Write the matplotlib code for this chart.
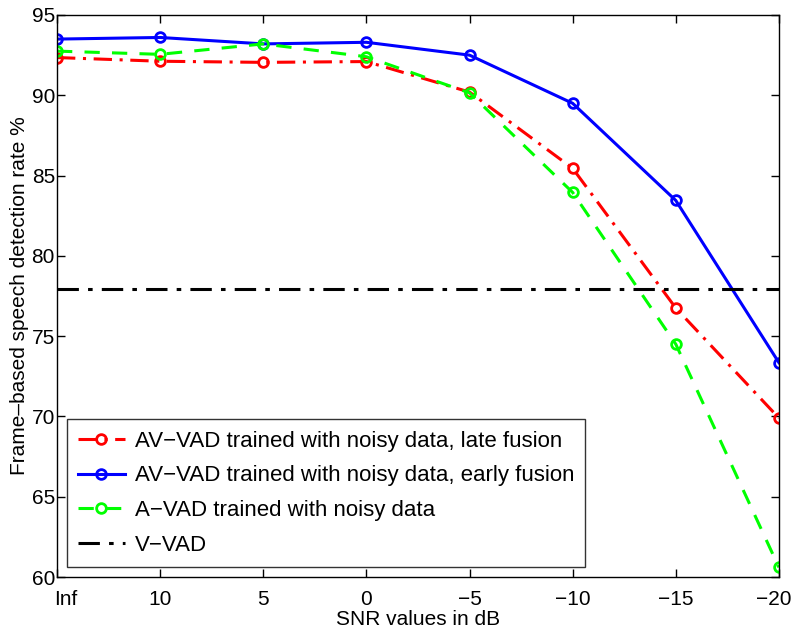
import matplotlib
matplotlib.use("Agg")
import matplotlib.pyplot as plt
from matplotlib.transforms import ScaledTranslation

plt.rcParams['font.family'] = ['Liberation Sans', 'DejaVu Sans']

snr_labels = ['Inf', '10', '5', '0', '\u22125', '\u221210', '\u221215', '\u221220']
late_fusion = [92.35, 92.12, 92.05, 92.1, 90.2, 85.45, 76.75, 69.9]
early_fusion = [93.5, 93.6, 93.2, 93.3, 92.5, 89.5, 83.45, 73.35]
audio_only = [92.75, 92.55, 93.2, 92.4, 90.15, 83.95, 74.5, 60.6]
video_only = 77.95

x = list(range(len(snr_labels)))

fig = plt.figure(figsize=(7.94, 6.30), dpi=100)
ax = fig.add_axes([0.0718, 0.0841, 0.9092, 0.8921])

ax.plot(x, late_fusion, color='#ff0000', linestyle=(0, (6, 2.5, 1, 2.5)), lw=2.2,
        marker='o', ms=7, mfc='none', mew=2, label='AV\u2212VAD trained with noisy data, late fusion')
ax.plot(x, early_fusion, color='#0000ff', linestyle='-', lw=2.2,
        marker='o', ms=7, mfc='none', mew=2, label='AV\u2212VAD trained with noisy data, early fusion')
ax.plot(x, audio_only, color='#00ff00', linestyle=(0, (5, 4)), lw=2.2,
        marker='o', ms=7, mfc='none', mew=2, label='A\u2212VAD trained with noisy data')
ax.axhline(video_only, color='black', linestyle=(0, (7, 3, 1.5, 3)), lw=2.2, label='V\u2212VAD')

ax.set_xlim(0, len(snr_labels) - 1)
ax.set_ylim(60, 95)
ax.set_xticks(x)
ax.set_xticklabels(snr_labels)
ax.set_yticks([60, 65, 70, 75, 80, 85, 90, 95])
ax.tick_params(direction='in', top=True, right=True, labelsize=15, length=6, width=1)
ax.tick_params(axis='x', pad=9)
ax.tick_params(axis='y', pad=1.5)
for s in ax.spines.values():
    s.set_linewidth(1)

# keep the end labels inside the figure edges
xlabels = ax.get_xticklabels()
xlabels[0].set_transform(xlabels[0].get_transform() + ScaledTranslation(0.09, 0, fig.dpi_scale_trans))
xlabels[-1].set_transform(xlabels[-1].get_transform() + ScaledTranslation(-0.05, 0, fig.dpi_scale_trans))

ax.set_xlabel('SNR values in dB', fontsize=15, labelpad=1)
ax.set_ylabel('Frame\u2013based speech detection rate %', fontsize=15, labelpad=2)

leg = ax.legend(loc='lower left', fontsize=16, frameon=True, fancybox=False,
                edgecolor='black', handlelength=2.1, borderpad=0.5, labelspacing=0.62,
                handletextpad=0.45, borderaxespad=0.45)
leg.get_frame().set_linewidth(1)

fig.savefig('out.png', dpi=100)
